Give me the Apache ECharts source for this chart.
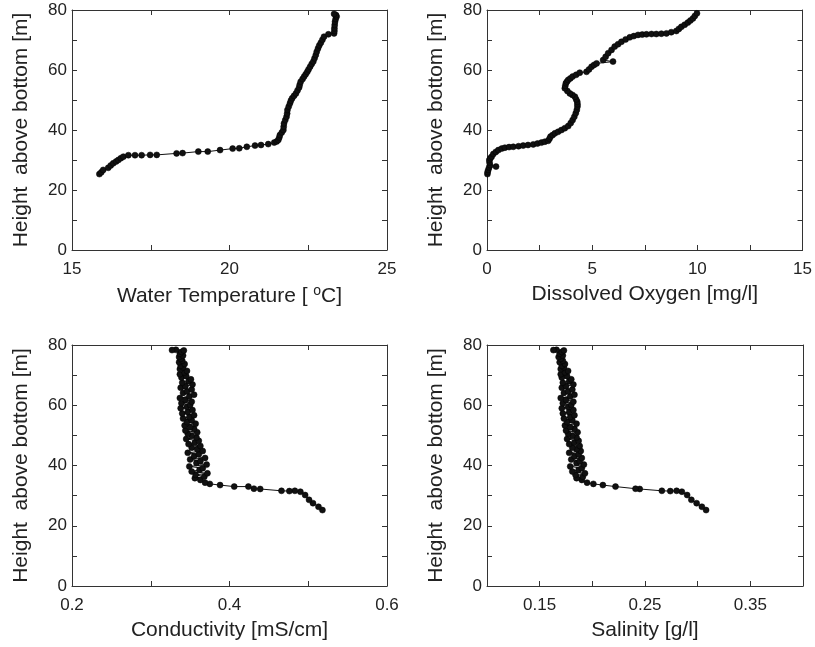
<!DOCTYPE html>
<html>
<head>
<meta charset="utf-8">
<script src="https://cdn.jsdelivr.net/npm/echarts@6/dist/echarts.min.js"></script>
<style>html,body{margin:0;padding:0;background:#fff;}#c{width:815px;height:647px;}</style>
</head>
<body>
<div id="c"></div>
<script>
// ---------- DATA ----------
const tempHeight = [25.3,25.9,26.7,27.4,28.2,28.9,29.5,30.0,30.6,31.1,31.6,31.6,31.6,31.7,31.7,32.2,32.3,32.8,32.8,33.3,33.8,33.9,34.4,34.8,35.0,35.3,35.8,36.2,36.7,37.5,38.3,39.2,40.0,41.1,42.2,43.3,44.4,45.5,46.7,47.8,48.9,49.8,50.6,51.4,52.2,53.2,54.2,55.1,56.1,57.0,57.8,58.6,59.4,60.2,61.1,62.0,62.8,63.9,65.0,66.1,67.2,68.2,69.1,70.1,71.1,71.9,72.2,73.0,73.9,75.0,76.1,77.0,77.8,78.3,78.7];
const tempValue = [15.87,15.93,15.99,16.15,16.23,16.31,16.40,16.47,16.55,16.63,16.79,17.00,17.21,17.48,17.69,18.32,18.51,19.01,19.31,19.70,20.10,20.31,20.55,20.81,21.00,21.23,21.42,21.50,21.55,21.58,21.60,21.66,21.71,21.72,21.73,21.77,21.81,21.83,21.84,21.88,21.92,21.95,21.99,22.05,22.11,22.16,22.21,22.23,22.26,22.32,22.37,22.42,22.47,22.51,22.56,22.61,22.66,22.70,22.74,22.77,22.81,22.85,22.90,22.95,23.00,23.14,23.32,23.33,23.33,23.34,23.35,23.37,23.40,23.38,23.32];

const oxyHeight = [25.3,26.0,26.7,27.5,27.8,28.3,29.2,30.0,30.6,31.1,32.0,32.7,33.3,33.8,34.1,34.3,34.4,34.6,34.8,35.0,35.2,35.5,35.8,36.1,36.4,37.1,37.8,38.3,38.9,39.4,40.0,40.6,41.3,42.3,43.3,44.4,45.6,46.7,47.8,48.6,49.4,50.2,51.1,51.7,52.2,53.0,53.9,54.7,55.6,56.1,56.7,57.2,57.8,58.4,59.1,59.4,60.2,61.1,61.7,62.2,62.8,63.3,64.4,65.6,66.7,67.8,68.6,69.4,70.2,70.9,71.3,71.7,71.8,71.9,72.0,72.0,72.1,72.2,72.6,73.0,73.7,74.4,75.1,75.8,76.5,77.2,78.0,78.9];
const oxyValue = [0.02,0.03,0.06,0.10,0.43,0.14,0.12,0.11,0.16,0.22,0.30,0.42,0.54,0.70,0.85,1.05,1.25,1.50,1.72,1.95,2.20,2.40,2.59,2.75,2.91,2.97,3.02,3.12,3.23,3.38,3.54,3.70,3.86,3.98,4.07,4.15,4.22,4.27,4.30,4.30,4.29,4.24,4.18,4.06,3.94,3.82,3.70,3.72,3.75,3.80,3.86,3.96,4.07,4.24,4.41,4.73,4.85,4.97,5.09,5.21,5.99,5.52,5.64,5.76,5.92,6.07,6.23,6.39,6.59,6.79,6.98,7.18,7.38,7.58,7.82,8.05,8.29,8.53,8.76,9.00,9.12,9.24,9.40,9.55,9.67,9.79,9.88,9.98];

const condHeight = [25.2,26.3,27.5,28.6,30.2,31.3,31.6,31.5,31.6,32.2,32.3,33.0,33.0,33.5,33.9,34.3,35.2,35.8,
  36.3,36.9,37.4,38.0,38.6,39.1,39.7,40.3,40.8,41.4,42.0,42.5,43.1,43.7,44.2,44.8,45.4,45.9,46.5,47.1,47.6,48.2,48.8,49.3,49.9,50.5,51.0,51.6,52.2,52.7,53.3,53.9,54.4,55.0,55.6,56.1,56.7,57.3,57.8,58.4,59.0,59.5,60.1,60.7,61.2,61.8,62.4,62.9,63.5,64.1,64.6,65.2,65.8,66.3,66.9,67.5,68.0,68.6,69.2,69.7,70.3,70.9,71.4,72.0,72.6,73.1,73.7,74.3,74.8,75.4,76.0,76.5,77.1,77.7,78.2,78.4,78.3];
const condValue = [0.518,0.513,0.506,0.501,0.496,0.490,0.483,0.476,0.466,0.439,0.431,0.424,0.406,0.388,0.375,0.369,0.363,0.356,
  0.368,0.357,0.372,0.352,0.362,0.366,0.349,0.371,0.358,0.363,
  0.350,0.369,0.355,0.361,0.347,0.366,0.359,0.352,0.363,0.348,
  0.356,0.361,0.345,0.358,0.352,0.347,0.359,0.344,0.355,0.350,
  0.343,0.357,0.346,0.352,0.341,0.349,0.355,0.340,0.347,0.353,
  0.338,0.346,0.350,0.339,0.352,0.344,0.337,0.349,0.355,0.341,
  0.346,0.352,0.338,0.344,0.353,0.340,0.348,0.351,0.339,0.345,
  0.337,0.343,0.346,0.337,0.341,0.338,0.343,0.336,0.340,0.338,
  0.336,0.341,0.337,0.339,0.342,0.332,0.327];

const salHeight = [25.2,26.3,27.5,28.6,30.2,31.3,31.6,31.5,31.6,32.2,32.3,33.0,33.5,33.9,34.3,35.2,35.8,
  36.3,36.9,37.4,38.0,38.6,39.1,39.7,40.3,40.8,41.4,42.0,42.5,43.1,43.7,44.2,44.8,45.4,45.9,46.5,47.1,47.6,48.2,48.8,49.3,49.9,50.5,51.0,51.6,52.2,52.7,53.3,53.9,54.4,55.0,55.6,56.1,56.7,57.3,57.8,58.4,59.0,59.5,60.1,60.7,61.2,61.8,62.4,62.9,63.5,64.1,64.6,65.2,65.8,66.3,66.9,67.5,68.0,68.6,69.2,69.7,70.3,70.9,71.4,72.0,72.6,73.1,73.7,74.3,74.8,75.4,76.0,76.5,77.1,77.7,78.2,78.4,78.3];
const salValue = [0.308,0.304,0.299,0.294,0.290,0.285,0.280,0.274,0.266,0.245,0.241,0.222,0.210,0.201,0.195,0.190,0.185,
  0.191,0.184,0.193,0.181,0.187,0.190,0.179,0.192,0.185,0.188,
  0.180,0.190,0.183,0.187,0.178,0.189,0.185,0.181,0.188,0.178,
  0.183,0.187,0.176,0.185,0.181,0.177,0.186,0.175,0.183,0.179,
  0.174,0.185,0.176,0.181,0.173,0.179,0.183,0.172,0.178,0.182,
  0.171,0.177,0.180,0.172,0.182,0.175,0.170,0.179,0.183,0.173,
  0.177,0.181,0.171,0.175,0.182,0.172,0.178,0.180,0.171,0.176,
  0.170,0.174,0.177,0.170,0.173,0.171,0.174,0.169,0.172,0.170,
  0.168,0.172,0.169,0.171,0.173,0.166,0.163];

const heightTickLabels = [0,20,40,60,80];
const tempTickLabels = [15,20,25];
const oxyTickLabels = [0,5,10,15];
const condTickLabels = ['0.2','0.4','0.6'];
const salTickLabels = ['0.15','0.25','0.35'];

const yName = 'Height  above bottom [m]';
const xNames = ['Water Temperature [ {sup|o}C]', 'Dissolved Oxygen [mg/l]', 'Conductivity [mS/cm]', 'Salinity [g/l]'];

// ---------- CHART ----------
const FONT = 'Liberation Sans, Arial, Helvetica, sans-serif';
const axisColor = '#333';
const textColor = '#222';

const grids = [
  {left: 72, top: 10, width: 315, height: 240},
  {left: 487, top: 10, width: 316, height: 240},
  {left: 72, top: 345, width: 315, height: 241},
  {left: 487, top: 345, width: 316, height: 241}
];

const xRanges = [
  {min: 15, max: 25, interval: 2.5, labels: tempTickLabels, fmt: v => String(v)},
  {min: 0, max: 15, interval: 2.5, labels: oxyTickLabels, fmt: v => String(v)},
  {min: 0.2, max: 0.6, interval: 0.1, labels: condTickLabels, fmt: v => v.toFixed(1)},
  {min: 0.1, max: 0.4, interval: 0.05, labels: salTickLabels, fmt: v => v.toFixed(2)}
];

const series = [
  [tempValue, tempHeight],
  [oxyValue, oxyHeight],
  [condValue, condHeight],
  [salValue, salHeight]
];

const xAxis = [], yAxis = [], seriesOpt = [];
grids.forEach((g, i) => {
  const r = xRanges[i];
  const common = {
    type: 'value', gridIndex: i, min: r.min, max: r.max, interval: r.interval,
    splitLine: {show: false},
    axisLine: {show: true, onZero: false, lineStyle: {color: axisColor, width: 1}},
    axisTick: {show: true, inside: true, length: 5, lineStyle: {color: axisColor}}
  };
  xAxis.push(Object.assign({}, common, {
    position: 'bottom',
    name: xNames[i], nameLocation: 'middle', nameGap: 34,
    nameTextStyle: {fontFamily: FONT, fontSize: 21, color: textColor,
      rich: {sup: {fontFamily: FONT, fontSize: 14, color: textColor, padding: [0, 0, 10, 0]}}},
    axisLabel: {show: true, margin: 11, fontFamily: FONT, fontSize: 17, color: textColor,
      formatter: v => { const s = r.fmt(v); return r.labels.map(String).includes(s) ? s : ''; }}
  }));
  xAxis.push(Object.assign({}, common, {position: 'top', axisLabel: {show: false}}));
  const ycommon = {
    type: 'value', gridIndex: i, min: 0, max: 80, interval: 10,
    splitLine: {show: false},
    axisLine: {show: true, onZero: false, lineStyle: {color: axisColor, width: 1}},
    axisTick: {show: true, inside: true, length: 5, lineStyle: {color: axisColor}}
  };
  yAxis.push(Object.assign({}, ycommon, {
    position: 'left',
    name: yName, nameLocation: 'middle', nameGap: 40,
    nameTextStyle: {fontFamily: FONT, fontSize: 21, color: textColor},
    axisLabel: {show: true, margin: 5, fontFamily: FONT, fontSize: 17, color: textColor,
      formatter: v => heightTickLabels.includes(Math.round(v)) && Math.abs(v - Math.round(v)) < 1e-6 ? String(Math.round(v)) : ''}
  }));
  yAxis.push(Object.assign({}, ycommon, {position: 'right', axisLabel: {show: false}}));

  const [vals, hts] = series[i];
  seriesOpt.push({
    type: 'line', xAxisIndex: i * 2, yAxisIndex: i * 2,
    data: vals.map((v, k) => [v, hts[k]]),
    symbol: 'circle', symbolSize: 6, showSymbol: true,
    lineStyle: {color: '#111', width: 1},
    itemStyle: {color: '#111', borderColor: '#000', borderWidth: 0.5},
    silent: true, animation: false
  });
});

const chart = echarts.init(document.getElementById('c'), null, {renderer: 'canvas'});
chart.setOption({
  backgroundColor: '#fff',
  animation: false,
  grid: grids,
  xAxis: xAxis,
  yAxis: yAxis,
  series: seriesOpt
});
</script>
</body>
</html>
